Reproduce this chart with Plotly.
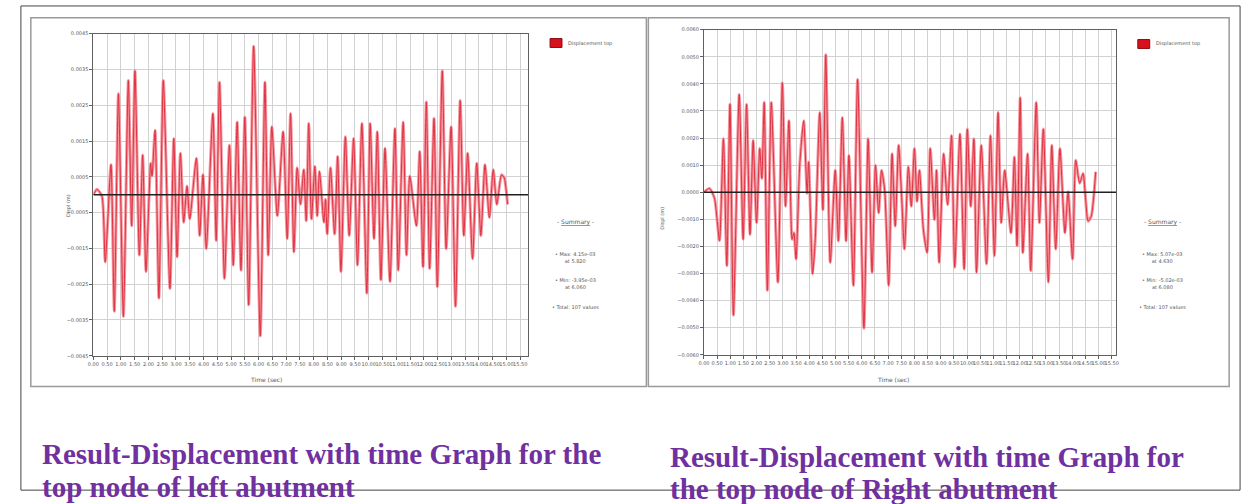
import plotly.graph_objects as go

# page is 1253x504; the body margin is removed by a small post script so the figure fills the page
W, H = 1253, 504
OFF = 0

# ---------------- data (time in s, displacement in mm) ----------------
left_time = [0.00, 0.13, 0.31, 0.43, 0.64, 0.76, 0.91, 1.09, 1.27, 1.39, 1.51, 1.67, 1.79, 1.91, 2.08, 2.13,
             2.24, 2.38, 2.54, 2.78, 2.92, 3.04, 3.16, 3.28, 3.40, 3.50, 3.74, 3.86, 3.98, 4.10, 4.34, 4.46,
             4.58, 4.76, 4.94, 5.08, 5.22, 5.36, 5.50, 5.64, 5.82, 6.06, 6.23, 6.35, 6.48, 6.68, 6.89, 7.04,
             7.16, 7.28, 7.40, 7.52, 7.64, 7.73, 7.82, 7.92, 8.04, 8.13, 8.21, 8.37, 8.43, 8.49, 8.61, 8.76,
             8.87, 8.99, 9.15, 9.29, 9.45, 9.59, 9.75, 9.93, 10.05, 10.19, 10.31, 10.44, 10.59, 10.77, 10.95,
             11.07, 11.25, 11.37, 11.49, 11.73, 11.85, 11.97, 12.09, 12.21, 12.37, 12.49, 12.67, 12.81, 12.99,
             13.15, 13.32, 13.45, 13.59, 13.77, 13.92, 14.07, 14.22, 14.38, 14.52, 14.65, 14.82, 14.92, 15.04]
left_disp = [0.00, 0.15, -0.04, -1.88, 0.84, -3.26, 2.82, -3.40, 3.19, -0.87, 3.46, -1.69, 1.11, -2.15, 0.88, 0.52,
             1.80, -2.89, 3.19, -2.62, 1.57, -1.74, 1.16, -0.77, 0.24, -0.68, 1.02, -1.14, 0.56, -1.51, 2.27, -1.28,
             3.14, -2.34, 1.39, -1.97, 2.03, -2.11, 2.17, -3.08, 4.15, -3.95, 3.14, -1.69, 1.90, -0.59, 1.76, -1.23,
             2.27, -1.60, 0.75, -0.27, 0.70, -0.73, 1.99, -0.68, 0.79, -0.59, 0.65, -0.77, -0.13, -1.10, 0.75, -1.10,
             1.07, -2.15, 1.62, -1.14, 1.57, -1.97, 1.99, -2.75, 1.99, -1.23, 1.76, -2.38, 1.30, -2.43, 1.85,
             -2.11, 2.03, -1.69, 0.52, -0.87, 1.21, -2.02, 2.59, -2.06, 2.13, -2.57, 3.46, -1.51, 1.90,
             -3.12, 2.63, -1.14, 1.16, -1.79, 0.88, -1.14, 0.84, -0.64, 0.70, -0.27, 0.56, 0.47, -0.27]

right_time = [0.00, 0.21, 0.40, 0.59, 0.74, 0.87, 0.99, 1.12, 1.34, 1.49, 1.62, 1.75, 1.87, 2.00, 2.12, 2.20,
              2.29, 2.41, 2.56, 2.81, 2.98, 3.10, 3.23, 3.35, 3.42, 3.50, 3.64, 3.79, 3.92, 3.98, 4.13, 4.23,
              4.40, 4.52, 4.63, 4.80, 4.99, 5.11, 5.26, 5.40, 5.51, 5.68, 5.84, 6.08, 6.24, 6.39, 6.52, 6.64,
              6.75, 6.87, 7.02, 7.15, 7.27, 7.40, 7.52, 7.62, 7.77, 7.88, 8.00, 8.10, 8.19, 8.34, 8.48, 8.60,
              8.76, 8.84, 8.94, 9.11, 9.26, 9.41, 9.53, 9.73, 9.89, 10.01, 10.14, 10.26, 10.36, 10.54, 10.74,
              10.89, 11.04, 11.18, 11.30, 11.43, 11.67, 11.80, 11.90, 12.02, 12.12, 12.30, 12.42, 12.63, 12.75,
              12.90, 13.09, 13.22, 13.37, 13.53, 13.72, 13.84, 14.01, 14.13, 14.28, 14.41, 14.60, 14.72, 14.89]
right_disp = [0.00, 0.14, -0.22, -1.79, 1.97, -2.71, 3.25, -4.54, 3.61, -1.74, 3.25, -1.56, 1.91, -1.13, 1.61, 0.51,
              3.31, -3.62, 3.31, -3.32, 4.04, -0.52, 2.64, -1.74, -1.50, -2.47, 1.00, 2.64, -0.04, 1.12, -3.02, -1.74,
              2.94, -0.65, 5.07, -2.59, 0.81, -1.80, 2.76, -1.80, 1.36, -3.44, 4.16, -5.02, 1.97, -2.96, 1.00, -0.77,
              0.81, 0.08, -3.44, 1.42, -1.25, 1.73, -0.28, -2.10, 0.94, -0.52, 1.61, -0.34, 0.81, -1.38, -2.23, 1.61,
              -1.01, 0.81, -2.59, 1.42, -0.46, 2.09, -2.77, 2.15, -2.84, 2.33, -0.52, 1.97, -2.96, 1.73, -2.65,
              2.09, -2.35, 2.94, -1.13, 0.81, -1.50, 1.30, -1.98, 3.49, -2.23, 1.42, -2.90, 3.31, -1.13,
              2.33, -3.32, 1.73, -2.10, 1.61, -1.50, 0.02, -2.47, 1.18, 0.33, 0.69, -1.07, -0.89, 0.75]

left_yticks_mm = [4.5, 3.5, 2.5, 1.5, 0.5, -0.5, -1.5, -2.5, -3.5, -4.5]
right_yticks_mm = [6, 5, 4, 3, 2, 1, 0, -1, -2, -3, -4, -5, -6]
series_name = "Displacement top"
caption_left = ["Result-Displacement with time Graph for the", "top node of left abutment"]
caption_right = ["Result-Displacement with time Graph for", "the top node of Right abutment"]

# unit conversion mm -> m
left_m = [v * 1e-3 for v in left_disp]
right_m = [v * 1e-3 for v in right_disp]

LINE = "rgb(222,50,66)"
GRID = "#d2d2d2"
AX = "#606060"
FONT = "DejaVu Sans"
PURPLE = "#7030a0"

fig = go.Figure()
for xs, ys, xa, ya in [(left_time, left_m, "x", "y"), (right_time, right_m, "x2", "y2")]:
    fig.add_trace(go.Scatter(x=xs, y=ys, xaxis=xa, yaxis=ya, mode="lines", name=series_name,
                             line=dict(color="rgba(245,140,150,0.9)", width=3.0, shape="spline", smoothing=0.6),
                             showlegend=False, hoverinfo="skip"))
    fig.add_trace(go.Scatter(x=xs, y=ys, xaxis=xa, yaxis=ya, mode="lines", name=series_name,
                             line=dict(color=LINE, width=1.0, shape="spline", smoothing=0.6),
                             showlegend=False))

def px(x):
    return (x - OFF) / W

def py(y):
    return 1 - (y - OFF) / H

axis_common = dict(showline=True, linecolor=AX, linewidth=1, mirror=True, showgrid=True, gridcolor=GRID,
                   gridwidth=1, ticks="outside", ticklen=3, tickcolor=AX, zeroline=False,
                   tickfont=dict(family=FONT, size=5, color="#555"))

fig.update_layout(
    width=W, height=H, autosize=False,
    margin=dict(l=0, r=0, t=0, b=0),
    paper_bgcolor="white", plot_bgcolor="white",
    showlegend=False,
    xaxis=dict(domain=[px(88), px(526)], range=[0, 15.79], dtick=0.5, tick0=0, tickformat=".2f",
               tickangle=0, anchor="y", **axis_common),
    yaxis=dict(domain=[py(357), py(31)], range=[-0.0045, 0.0045],
               tickvals=[v * 1e-3 for v in left_yticks_mm], tickformat=".4f", anchor="x", **axis_common),
    xaxis2=dict(domain=[px(703), px(1118)], range=[0, 15.66], dtick=0.5, tick0=0, tickformat=".2f",
                tickangle=0, anchor="y2", **axis_common),
    yaxis2=dict(domain=[py(356), py(27)], range=[-0.006, 0.006],
                tickvals=[v * 1e-3 for v in right_yticks_mm], tickformat=".4f", anchor="x2", **axis_common),
)

shapes = []
# zero lines
shapes.append(dict(type="line", xref="x", yref="y", x0=0, x1=15.79, y0=0, y1=0,
                   line=dict(color="#202020", width=1.6)))
shapes.append(dict(type="line", xref="x2", yref="y2", x0=0, x1=15.66, y0=0, y1=0,
                   line=dict(color="#202020", width=1.6)))
# panel borders
for (x0, y0, x1, y1) in [(25, 15, 645, 388), (647, 15, 1232, 388)]:
    shapes.append(dict(type="rect", xref="paper", yref="paper", x0=px(x0), x1=px(x1), y0=py(y1), y1=py(y0),
                       line=dict(color="#9a9a9a", width=1.5)))
# outer frame
shapes.append(dict(type="rect", xref="paper", yref="paper", x0=px(15), x1=px(1243), y0=py(493), y1=py(3),
                   line=dict(color="#444", width=1)))
# legend swatches
for (x0, y0) in [(548, 36), (1140, 37)]:
    shapes.append(dict(type="rect", xref="paper", yref="paper", x0=px(x0), x1=px(x0 + 12),
                       y0=py(y0 + 9), y1=py(y0), fillcolor="#d8101c", line=dict(color="#8a0a10", width=1)))
fig.update_layout(shapes=shapes)

ann = []
def text(x, y, s, size=5, color="#555", xanchor="center", angle=0, family=FONT, yanchor="middle"):
    ann.append(dict(x=px(x), y=py(y), xref="paper", yref="paper", text=s, showarrow=False,
                    xanchor=xanchor, yanchor=yanchor, textangle=angle,
                    font=dict(family=family, size=size, color=color)))

text(564, 41, series_name, size=5, xanchor="left")
text(1156, 41, series_name, size=5, xanchor="left")

# axis titles
text(63, 205, "Displ (m)", angle=-90)
text(661, 218, "Displ (m)", angle=-90)
text(262, 381, "Time (sec)", size=6)
text(893, 381, "Time (sec)", size=6)

# summaries
def summary(cx, y0, ts, vs):
    imax = max(range(len(vs)), key=lambda i: vs[i])
    imin = min(range(len(vs)), key=lambda i: vs[i])
    text(cx, y0, "- <u>Summary</u> -", size=6)
    text(cx, y0 + 36, f"• Max: {vs[imax]:.2e}<br>at {ts[imax]:.3f}", size=5)
    text(cx, y0 + 62, f"• Min: {vs[imin]:.2e}<br>at {ts[imin]:.3f}", size=5)
    text(cx, y0 + 86, f"• Total: {len(vs)} values", size=5)

summary(574, 222, left_time, left_m)
summary(1165, 222, right_time, right_m)

# captions
cap_font = "Liberation Serif"
text(34, 456, f"<b>{caption_left[0]}</b>", size=29, color=PURPLE, xanchor="left", family=cap_font)
text(34, 490, f"<b>{caption_left[1]}</b>", size=29, color=PURPLE, xanchor="left", family=cap_font)
text(667, 459, f"<b>{caption_right[0]}</b>", size=29, color=PURPLE, xanchor="left", family=cap_font)
text(667, 492, f"<b>{caption_right[1]}</b>", size=29, color=PURPLE, xanchor="left", family=cap_font)

fig.update_layout(annotations=ann)
fig.write_html("out.html", config={"displayModeBar": False},
               post_script="document.body.style.margin='0px';document.body.style.overflow='hidden';")
